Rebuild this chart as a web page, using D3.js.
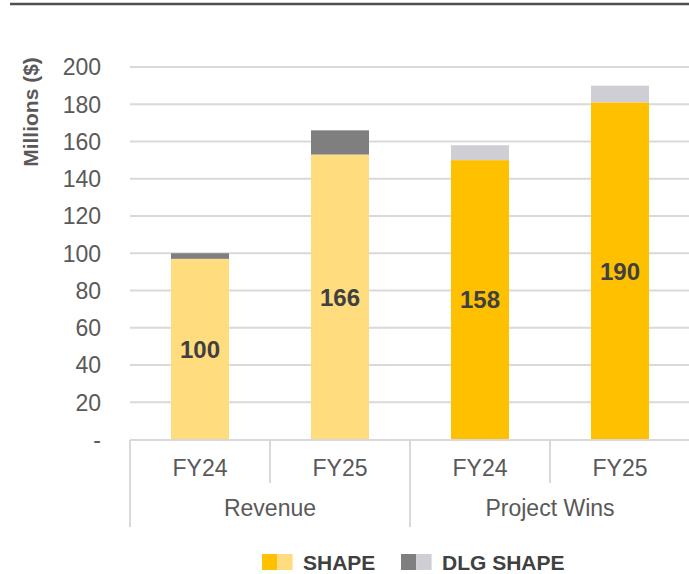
<!DOCTYPE html>
<html>
<head>
<meta charset="utf-8">
<script src="https://cdn.jsdelivr.net/npm/d3@7"></script>
<style>
  body { margin: 0; background: #fff; }
  text { font-family: "Liberation Sans", Arial, sans-serif; }
</style>
</head>
<body>
<div id="chart"></div>
<script>
// data
var groups = ["Revenue", "Revenue", "Project Wins", "Project Wins"];
var years = ["FY24", "FY25", "FY24", "FY25"];
var shape = [97, 153, 150, 181];
var dlgShape = [3, 13, 8, 9];
var totals = [100, 166, 158, 190];
var yTicks = [0, 20, 40, 60, 80, 100, 120, 140, 160, 180, 200];
var legendNames = ["SHAPE", "DLG SHAPE"];

// colours: revenue bars are lighter/darker than project wins bars
var shapeColors = ["#FFDC7D", "#FFDC7D", "#FFC000", "#FFC000"];
var dlgColors = ["#7F7F7F", "#7F7F7F", "#D0CED5", "#D0CED5"];
var legendSwatches = [["#FFC000", "#FFDC7D"], ["#7F7F7F", "#D0CED5"]];

var width = 689, height = 574;
var plotLeft = 130, plotRight = 690, plotTop = 67, plotZero = 439.5;

var svg = d3.select("#chart")
  .append("svg")
    .attr("width", width)
    .attr("height", height);

// top rule
svg.append("line")
  .attr("x1", 10).attr("x2", width)
  .attr("y1", 4).attr("y2", 4)
  .attr("stroke", "#505050")
  .attr("stroke-width", 2.5);

var keys = years.map(function(d, i) { return i; });

var x = d3.scaleBand()
  .domain(keys)
  .range([plotLeft, plotRight])
  .paddingInner(1 - 58 / 140)
  .paddingOuter((1 - 58 / 140) / 2);

var step = x.step();

var y = d3.scaleLinear()
  .domain([0, 200])
  .range([plotZero, plotTop]);

// gridlines
svg.append("g")
  .selectAll("line")
  .data(yTicks.filter(function(d) { return d > 0; }))
  .enter()
  .append("line")
    .attr("x1", plotLeft).attr("x2", width)
    .attr("y1", function(d) { return y(d); })
    .attr("y2", function(d) { return y(d); })
    .attr("stroke", "#D9D9D9")
    .attr("stroke-width", 2);

// y tick labels
svg.append("g")
  .selectAll("text")
  .data(yTicks)
  .enter()
  .append("text")
    .attr("x", 101)
    .attr("y", function(d) { return y(d); })
    .attr("dy", "0.36em")
    .attr("text-anchor", "end")
    .style("font-size", "23px")
    .style("fill", "#595959")
    .text(function(d) { return d === 0 ? "-" : d; });

// y title
svg.append("text")
  .attr("transform", "translate(38,112)rotate(-90)")
  .attr("text-anchor", "middle")
  .style("font-size", "21px")
  .style("font-weight", "bold")
  .style("fill", "#595959")
  .text("Millions ($)");

// bars
var bars = svg.append("g");
bars.selectAll(".shape")
  .data(keys)
  .enter()
  .append("rect")
    .attr("class", "shape")
    .attr("x", function(i) { return x(i); })
    .attr("width", x.bandwidth())
    .attr("y", function(i) { return y(shape[i]); })
    .attr("height", function(i) { return y(0) - y(shape[i]); })
    .attr("fill", function(i) { return shapeColors[i]; });

bars.selectAll(".dlg")
  .data(keys)
  .enter()
  .append("rect")
    .attr("class", "dlg")
    .attr("x", function(i) { return x(i); })
    .attr("width", x.bandwidth())
    .attr("y", function(i) { return y(shape[i] + dlgShape[i]); })
    .attr("height", function(i) { return y(shape[i]) - y(shape[i] + dlgShape[i]); })
    .attr("fill", function(i) { return dlgColors[i]; });

// total labels in the middle of the SHAPE part
svg.append("g")
  .selectAll("text")
  .data(keys)
  .enter()
  .append("text")
    .attr("x", function(i) { return x(i) + x.bandwidth() / 2; })
    .attr("y", function(i) { return y(shape[i] / 2); })
    .attr("dy", "0.36em")
    .attr("text-anchor", "middle")
    .style("font-size", "24px")
    .style("font-weight", "bold")
    .style("fill", "#404040")
    .text(function(i) { return totals[i]; });

// category axis
var axis = svg.append("g").attr("stroke", "#D9D9D9").attr("stroke-width", 2);
axis.append("line")
  .attr("x1", plotLeft).attr("x2", width)
  .attr("y1", 440).attr("y2", 440);

keys.forEach(function(i) {
  var xl = x(i) - (step - x.bandwidth()) / 2;
  var groupStart = i === 0 || groups[i] !== groups[i - 1];
  axis.append("line")
    .attr("x1", xl).attr("x2", xl)
    .attr("y1", 440)
    .attr("y2", groupStart ? 527 : 483);
});

svg.append("g")
  .selectAll("text")
  .data(keys)
  .enter()
  .append("text")
    .attr("x", function(i) { return x(i) + x.bandwidth() / 2; })
    .attr("y", 476)
    .attr("text-anchor", "middle")
    .style("font-size", "23px")
    .style("fill", "#595959")
    .text(function(i) { return years[i]; });

var groupNames = groups.filter(function(d, i) { return groups.indexOf(d) === i; });
svg.append("g")
  .selectAll("text")
  .data(groupNames)
  .enter()
  .append("text")
    .attr("x", function(g) {
      var idx = keys.filter(function(i) { return groups[i] === g; });
      var a = x(idx[0]) - (step - x.bandwidth()) / 2;
      var b = x(idx[idx.length - 1]) + x.bandwidth() + (step - x.bandwidth()) / 2;
      return (a + b) / 2;
    })
    .attr("y", 516)
    .attr("text-anchor", "middle")
    .style("font-size", "23px")
    .style("fill", "#595959")
    .text(function(g) { return g; });

// legend
var legendX = [262, 401];
var legend = svg.append("g")
  .selectAll("g")
  .data(legendNames)
  .enter()
  .append("g")
    .attr("transform", function(d, i) { return "translate(" + legendX[i] + ",554)"; });

legend.each(function(d, i) {
  var g = d3.select(this);
  legendSwatches[i].forEach(function(c, j) {
    g.append("rect")
      .attr("x", j * 15.3)
      .attr("width", 15.3)
      .attr("height", 16)
      .attr("fill", c);
  });
  g.append("text")
    .attr("x", 41)
    .attr("y", 15.5)
    .style("font-size", "21px")
    .style("font-weight", "bold")
    .style("fill", "#404040")
    .text(d);
});
</script>
</body>
</html>
